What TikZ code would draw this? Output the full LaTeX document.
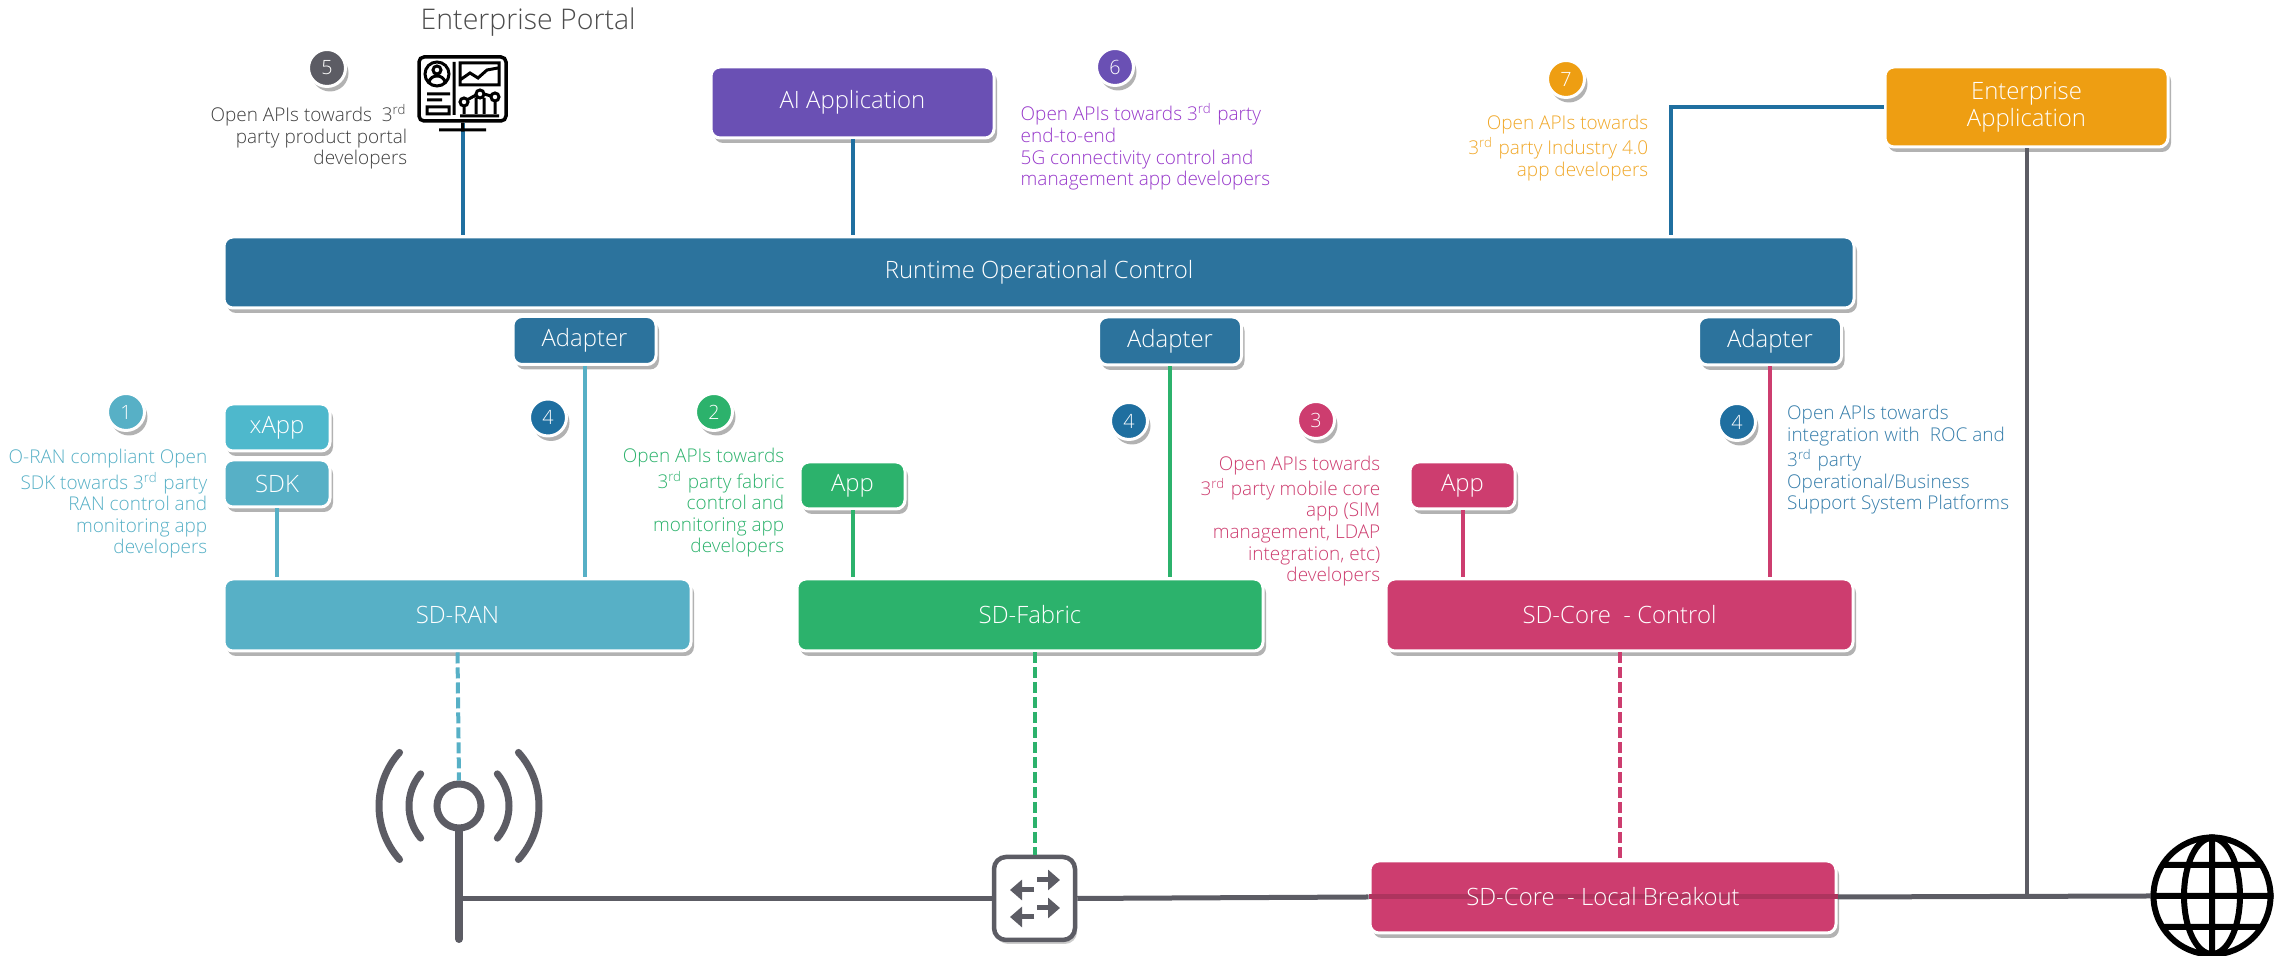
\documentclass[tikz,border=0pt]{standalone}
\usepackage{fontspec}
\setmainfont{Open Sans}[UprightFont=* Light]
\usetikzlibrary{shadows,arrows.meta}

\definecolor{rocblue}{HTML}{2C739D}
\definecolor{linkblue}{HTML}{1F6FA0}
\definecolor{ranblue}{HTML}{57B0C6}
\definecolor{fabricgreen}{HTML}{2CB26C}
\definecolor{corepink}{HTML}{CD3D6F}
\definecolor{aipurple}{HTML}{6A50B4}
\definecolor{entorange}{HTML}{EE9E12}
\definecolor{wiregray}{HTML}{5C5C64}

\begin{document}
\begin{tikzpicture}
\useasboundingbox (0,0) rectangle (22.85,9.56);

% Looks of boxes, badges and notes
\tikzset{
    panel/.style={
        rectangle,
        rounded corners=.09cm,
        draw=white,
        line width=.03cm,
        text=white,
        align=center,
        inner sep=0pt,
        font=\fontsize{6.8}{7.8}\selectfont,
        drop shadow={shadow xshift=.03cm,shadow yshift=-.05cm,fill=black,opacity=.3}
    },
    badge/.style={
        circle,
        draw=white,
        line width=.03cm,
        minimum size=.37cm,
        inner sep=0pt,
        text=white,
        font=\fontsize{5.6}{6}\selectfont,
        drop shadow={shadow xshift=.03cm,shadow yshift=-.05cm,fill=black,opacity=.3}
    },
    note/.style={
        inner sep=0pt,
        font=\fontsize{5.4}{6.15}\selectfont
    },
    wire/.style={line width=.04cm},
    dashwire/.style={line width=.04cm,dash pattern=on .11cm off .04cm}
}

% Top row
\node[anchor=west,note,font=\fontsize{8.1}{9}\selectfont,text=black!70] (portaltitle) at (4.20,9.34) {Enterprise Portal};
\node[panel,fill=aipurple,minimum width=2.83cm,minimum height=.71cm] (aiapp) at (8.525,8.535) {AI Application};
\node[panel,fill=entorange,minimum width=2.83cm,minimum height=.80cm] (entapp) at (20.265,8.49) {Enterprise\\Application};
\node[
    rectangle,
    rounded corners=.05cm,
    draw=black,
    line width=.035cm,
    minimum width=.87cm,
    minimum height=.64cm
] (portal) at (4.625,8.67) {};

% Control layer
\node[panel,fill=rocblue,minimum width=16.30cm,minimum height=.71cm] (roc) at (10.39,6.835) {Runtime Operational Control};
\node[panel,fill=rocblue,minimum width=1.43cm,minimum height=.48cm] (adapterran) at (5.845,6.155) {Adapter};
\node[panel,fill=rocblue,minimum width=1.43cm,minimum height=.48cm] (adapterfabric) at (11.70,6.15) {Adapter};
\node[panel,fill=rocblue,minimum width=1.43cm,minimum height=.48cm] (adaptercore) at (17.70,6.15) {Adapter};

% Apps and domains
\node[panel,fill=ranblue!90!cyan,minimum width=1.06cm,minimum height=.47cm] (xapp) at (2.77,5.285) {xApp};
\node[panel,fill=ranblue,minimum width=1.06cm,minimum height=.47cm] (sdk) at (2.77,4.725) {SDK};
\node[panel,fill=fabricgreen,minimum width=1.05cm,minimum height=.47cm] (appfabric) at (8.525,4.705) {App};
\node[panel,fill=corepink,minimum width=1.05cm,minimum height=.47cm] (appcore) at (14.625,4.705) {App};
\node[panel,fill=ranblue,minimum width=4.67cm,minimum height=.72cm] (sdran) at (4.575,3.41) {SD-RAN};
\node[panel,fill=fabricgreen,minimum width=4.66cm,minimum height=.72cm] (sdfabric) at (10.30,3.41) {SD-Fabric};
\node[panel,fill=corepink,minimum width=4.67cm,minimum height=.72cm] (sdcore) at (16.195,3.41) {SD-Core\ \ - Control};

% Bottom row
\node[panel,fill=corepink,minimum width=4.66cm,minimum height=.72cm] (breakout) at (16.03,.59) {};
\node[
    rectangle,
    rounded corners=.12cm,
    draw=wiregray,
    fill=white,
    line width=.045cm,
    minimum width=.81cm,
    minimum height=.83cm,
    drop shadow={shadow xshift=.02cm,shadow yshift=-.04cm,fill=black,opacity=.2}
] (switch) at (10.345,.575) {};
\node[circle,draw=wiregray,line width=.07cm,minimum size=.44cm,inner sep=0pt] (tower) at (4.59,1.50) {};
\node[circle,draw=black,line width=.06cm,minimum size=1.17cm,inner sep=0pt] (globe) at (22.12,.60) {};
\coordinate (polefoot) at (4.59,.17);
\coordinate (roctap) at (16.71,6.835);

% Connectors
\draw[wire,linkblue] (portal.south) -- (portal.south |- roc.north);
\draw[wire,linkblue] (aiapp.south) -- (aiapp.south |- roc.north);
\draw[wire,linkblue] (entapp.west) -| (roctap |- roc.north);
\draw[wire,ranblue] (adapterran.south) -- (adapterran.south |- sdran.north);
\draw[wire,fabricgreen] (adapterfabric.south) -- (adapterfabric.south |- sdfabric.north);
\draw[wire,corepink] (adaptercore.south) -- (adaptercore.south |- sdcore.north);
\draw[wire,ranblue] (sdk.south) -- (sdk.south |- sdran.north);
\draw[wire,fabricgreen] (appfabric.south) -- (appfabric.south |- sdfabric.north);
\draw[wire,corepink] (appcore.south) -- (appcore.south |- sdcore.north);
\draw[dashwire,ranblue] (sdran.south) -- (tower.north);
\draw[dashwire,fabricgreen] (switch.north |- sdfabric.south) -- (switch.north);
\draw[dashwire,corepink] (sdcore.south) -- (sdcore.south |- breakout.north);
\draw[wire,wiregray] (entapp.south) -- (entapp.south |- globe.west);
\draw[wire,wiregray,line width=.05cm] (tower.south |- switch.west) -- (switch.west);
\draw[wire,wiregray,line width=.05cm] (switch.east) -- (breakout.west);
\draw[wire,wiregray,line width=.05cm] (breakout.east) -- (globe.west);
\draw[corepink!85!black,line width=.05cm] (breakout.west) -- (breakout.east);
\node[text=white,font=\fontsize{6.8}{7.8}\selectfont,inner sep=0pt] (breakoutlabel) at (breakout) {SD-Core\ \ - Local Breakout};

% Radio tower
\draw[wiregray,line width=.08cm,line cap=round] (tower.south) -- (polefoot);
\draw[wiregray,line width=.07cm,line cap=round]
    (tower.center) ++(138:.80) arc[start angle=138,end angle=222,radius=.80]
    (tower.center) ++(140:.50) arc[start angle=140,end angle=220,radius=.50]
    (tower.center) ++(42:.80) arc[start angle=42,end angle=-42,radius=.80]
    (tower.center) ++(40:.50) arc[start angle=40,end angle=-40,radius=.50];

% Switch arrows
\draw[wiregray,line width=.05cm,-{Triangle[width=.2cm,length=.12cm]}] (10.37,.76) -- ++(.23,0);
\draw[wiregray,line width=.05cm,-{Triangle[width=.2cm,length=.12cm]}] (10.34,.66) -- ++(-.24,0);
\draw[wiregray,line width=.05cm,-{Triangle[width=.2cm,length=.12cm]}] (10.37,.48) -- ++(.23,0);
\draw[wiregray,line width=.05cm,-{Triangle[width=.2cm,length=.12cm]}] (10.34,.39) -- ++(-.24,0);

% Globe
\draw[black,line width=.06cm]
    (globe.center) ellipse[x radius=.28,y radius=.58]
    (globe.north) -- (globe.south)
    (globe.west) -- (globe.east)
    ([yshift=.31cm]globe.center) ++(-.49,0) -- ++(.98,0)
    ([yshift=-.31cm]globe.center) ++(-.49,0) -- ++(.98,0);

% Portal icon
\draw[black,line width=.03cm]
    (4.54,8.94) -- (4.54,8.41)
    (4.37,8.82) circle[radius=.12]
    (4.37,8.86) circle[radius=.04]
    (4.29,8.74) .. controls (4.31,8.82) and (4.43,8.82) .. (4.45,8.74)
    (4.27,8.62) -- (4.50,8.62)
    (4.27,8.56) -- (4.42,8.56)
    (4.27,8.42) rectangle (4.49,8.49)
    (4.60,8.71) rectangle (4.99,8.93)
    (4.60,8.76) -- (4.70,8.83) -- (4.78,8.78) -- (4.87,8.86) -- (4.98,8.88)
    (4.64,8.54) circle[radius=.04]
    (4.80,8.62) circle[radius=.04]
    (4.95,8.59) circle[radius=.04]
    (4.64,8.50) -- (4.64,8.42)
    (4.67,8.56) -- (4.76,8.61)
    (4.84,8.62) -- (4.91,8.60)
    (4.76,8.58) -- (4.76,8.42)
    (4.84,8.58) -- (4.84,8.42)
    (4.95,8.55) -- (4.95,8.42)
    (4.60,8.40) -- (4.99,8.40)
    (portal.south) -- ++(0,-.09)
    (4.39,8.26) -- (4.86,8.26);

% Numbered badges
\node[badge,fill=ranblue] (badgeran) at (1.26,5.44) {1};
\node[badge,fill=fabricgreen] (badgefabric) at (7.14,5.44) {2};
\node[badge,fill=corepink] (badgecore) at (13.16,5.36) {3};
\node[badge,fill=linkblue] (badgeadran) at (5.48,5.385) {4};
\node[badge,fill=linkblue] (badgeadfabric) at (11.29,5.35) {4};
\node[badge,fill=linkblue] (badgeadcore) at (17.37,5.34) {4};
\node[badge,fill=wiregray] (badgeportal) at (3.27,8.88) {5};
\node[badge,fill=aipurple] (badgeai) at (11.15,8.89) {6};
\node[badge,fill=entorange] (badgeent) at (15.66,8.77) {7};

% Notes
\node[note,anchor=east,align=right,text=black!75] (noteportal) at (4.08,8.19) {Open APIs towards\ \ 3\textsuperscript{rd}\\party product portal\\developers};
\node[note,anchor=east,align=right,text=ranblue] (noteran) at (2.08,4.52) {O-RAN compliant Open\\SDK towards 3\textsuperscript{rd} party\\RAN control and\\monitoring app\\developers};
\node[note,anchor=east,align=right,text=fabricgreen] (notefabric) at (7.85,4.53) {Open APIs towards\\3\textsuperscript{rd} party fabric\\control and\\monitoring app\\developers};
\node[note,anchor=east,align=right,text=corepink] (notecore) at (13.81,4.35) {Open APIs towards\\3\textsuperscript{rd} party mobile core\\app (SIM\\management, LDAP\\integration, etc)\\developers};
\node[note,anchor=west,align=left,text=linkblue!90!white] (noteadapter) at (17.865,4.96) {Open APIs towards\\integration with\ \ ROC and\\3\textsuperscript{rd} party\\Operational/Business\\Support System Platforms};
\node[note,anchor=west,align=left,text=aipurple!70!magenta] (noteai) at (10.20,8.09) {Open APIs towards 3\textsuperscript{rd} party\\end-to-end\\5G connectivity control and\\management app developers};
\node[note,anchor=east,align=right,text=entorange!90!white] (noteent) at (16.49,8.08) {Open APIs towards\\3\textsuperscript{rd} party Industry 4.0\\app developers};
\end{tikzpicture}
\end{document}
